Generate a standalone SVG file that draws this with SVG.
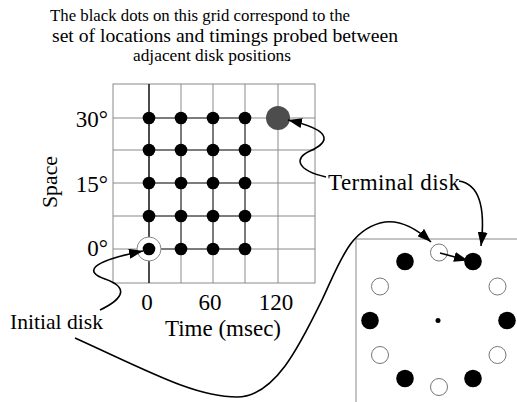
<svg xmlns="http://www.w3.org/2000/svg" width="517" height="402" viewBox="0 0 517 402">
<style>
text{font-family:"Liberation Serif","Times New Roman",serif;fill:#000}
.t22{font-size:22px}
.t23{font-size:23px}
.grid{stroke:#8a8a8a;stroke-width:1;fill:none}
.inner{stroke:#333;stroke-width:1;fill:none}
.dot{fill:#000}
.open{fill:#fff;stroke:#777;stroke-width:1}
.conn{fill:none;stroke:#000;stroke-width:1.6}
</style>
<defs>
<marker id="ah" viewBox="0 0 14 10" refX="14" refY="5" markerWidth="14" markerHeight="10" markerUnits="userSpaceOnUse" orient="auto">
<path d="M0,0 L14,5 L0,10 z" fill="#000"/>
</marker>
</defs>
<rect width="517" height="402" fill="#fff"/>

<g id="title">
<text x="50" y="21" font-size="16.5" textLength="300" lengthAdjust="spacingAndGlyphs">The black dots on this grid correspond to the</text>
<text x="52" y="42" font-size="18" textLength="346" lengthAdjust="spacingAndGlyphs">set of locations and timings probed between</text>
<text x="133" y="61" font-size="17" textLength="158" lengthAdjust="spacingAndGlyphs">adjacent disk positions</text>
</g>

<g id="grid">
<rect class="grid" x="113" y="84" width="202" height="199"/>
<path class="grid" d="M181,84V283M213,84V283M245,84V283M278,84V283M113,118H315M113,150H315M113,183H315M113,216H315M113,249H315"/>
<path class="inner" d="M181,118V249M213,118V249M245,118V249M149,118H245M149,150H245M149,183H245M149,216H245M149,249H245"/>
<path d="M149,84V283" stroke="#111" stroke-width="1.5"/>
<circle cx="149" cy="249" r="12" fill="#fff" stroke="#888" stroke-width="1"/>
<g class="dot">
<circle cx="149" cy="118" r="6.3"/><circle cx="181" cy="118" r="6.3"/><circle cx="213" cy="118" r="6.3"/><circle cx="245" cy="118" r="6.3"/>
<circle cx="149" cy="150" r="6.3"/><circle cx="181" cy="150" r="6.3"/><circle cx="213" cy="150" r="6.3"/><circle cx="245" cy="150" r="6.3"/>
<circle cx="149" cy="183" r="6.3"/><circle cx="181" cy="183" r="6.3"/><circle cx="213" cy="183" r="6.3"/><circle cx="245" cy="183" r="6.3"/>
<circle cx="149" cy="216" r="6.3"/><circle cx="181" cy="216" r="6.3"/><circle cx="213" cy="216" r="6.3"/><circle cx="245" cy="216" r="6.3"/>
<circle cx="149" cy="249" r="6.3"/><circle cx="181" cy="249" r="6.3"/><circle cx="213" cy="249" r="6.3"/><circle cx="245" cy="249" r="6.3"/>
</g>
<circle id="terminal-dot" cx="278" cy="118" r="12" fill="#4d4d4d"/>
</g>

<g id="axes">
<text class="t23" x="108" y="127" text-anchor="end">30°</text>
<text class="t23" x="108" y="192" text-anchor="end">15°</text>
<text class="t23" x="108" y="256" text-anchor="end">0°</text>
<text class="t22" transform="translate(57,182) rotate(-90)" text-anchor="middle" textLength="52" lengthAdjust="spacingAndGlyphs">Space</text>
<text class="t23" x="147" y="310" text-anchor="middle">0</text>
<text class="t23" x="210" y="310" text-anchor="middle">60</text>
<text class="t23" x="276" y="310" text-anchor="middle">120</text>
<text class="t23" x="223" y="336" text-anchor="middle">Time (msec)</text>
</g>

<g id="initial-label">
<text class="t22" x="10" y="329" textLength="93" lengthAdjust="spacingAndGlyphs">Initial disk</text>
</g>
<g id="terminal-label">
<text class="t23" x="328" y="190" textLength="132" lengthAdjust="spacing">Terminal disk</text>
</g>

<g id="panel">
<path d="M356,402V239H517" fill="none" stroke="#888" stroke-width="1"/>
<circle class="open" cx="439" cy="252.5" r="8.5"/>
<circle class="dot" cx="473" cy="261.5" r="8.8"/>
<circle class="open" cx="497.5" cy="286.5" r="8.5"/>
<circle class="dot" cx="507" cy="320.5" r="8.8"/>
<circle class="open" cx="497.5" cy="355" r="8.5"/>
<circle class="dot" cx="473" cy="378.5" r="8.8"/>
<circle class="open" cx="439" cy="387" r="8.5"/>
<circle class="dot" cx="405" cy="378.5" r="8.8"/>
<circle class="open" cx="380" cy="355" r="8.5"/>
<circle class="dot" cx="370" cy="320.5" r="8.8"/>
<circle class="open" cx="380" cy="286.5" r="8.5"/>
<circle class="dot" cx="405" cy="261.5" r="8.8"/>
<circle class="dot" cx="438" cy="320.5" r="2.5"/>
</g>

<g id="connectors">
<path class="conn" marker-end="url(#ah)" d="M326,177 C296,170 294,158 310,151 C328,143 336,131 288,120"/>
<path class="conn" marker-end="url(#ah)" d="M459,181 C478,184 486,205 481,246"/>
<path class="conn" marker-end="url(#ah)" d="M100,310 C125,298 128,287 105,279 C85,272 88,262 143,251"/>
<path class="conn" marker-end="url(#ah)" d="M75,338 C150,372 195,397 237,397 C275,397 300,345 322,300 C340,262 350,228 385,222 C402,220 418,230 431,242"/>
<path class="conn" marker-end="url(#ah)" d="M440,253 L468,260.5"/>
</g>
</svg>
